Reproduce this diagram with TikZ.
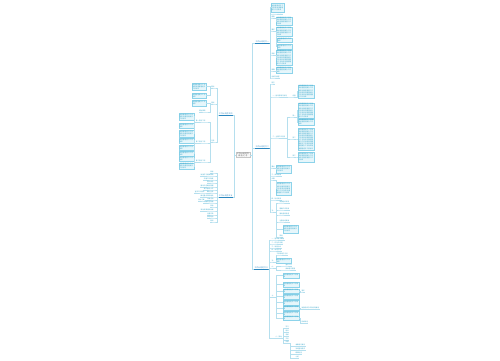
\documentclass[tikz,border=0pt]{standalone}
\usepackage{fontspec}
\setmainfont{Noto Sans CJK SC}
\XeTeXlinebreaklocale "zh"
\XeTeXlinebreakskip=0pt plus 1pt
\usetikzlibrary{positioning}
\definecolor{linkc}{HTML}{B5DFEE}
\definecolor{branchc}{HTML}{2A86BF}
\definecolor{boxfill}{HTML}{E6F6FB}
\definecolor{boxline}{HTML}{8DD3EA}
\definecolor{textc}{HTML}{3AA6C9}
\newcommand{\tinyfont}{\fontsize{1.6}{2.1}\selectfont}
\newcommand{\filler}[1]{\foreach \k in {1,...,#1}{加强管理提升工作效率}}
% links: right side / left side, to a label or to a box
\newcommand{\rlink}[2]{\draw[link] (#1.south east) -- ++(1,0) |- (#2.south west) -- (#2.south east);}
\newcommand{\rbox}[2]{\draw[link] (#1.south east) -- ++(1,0) |- (#2.west);}
\newcommand{\llink}[2]{\draw[link] (#1.south west) -- ++(-1,0) |- (#2.south east) -- (#2.south west);}
\newcommand{\lbox}[2]{\draw[link] (#1.south west) -- ++(-1,0) |- (#2.east);}
\tikzset{
  hub/.style={draw=gray!45, fill=gray!6, line width=0.3pt, inner sep=0.6pt, text width=13pt, align=center,
    font=\fontsize{1.8}{2.3}\selectfont, text=black!70},
  branch/.style={inner sep=0.4pt, font=\fontsize{1.9}{2.3}\selectfont, text=branchc},
  lbl/.style={inner sep=0.3pt, font=\tinyfont, text=textc},
  leafbox/.style={draw=boxline, line width=0.2pt, fill=boxfill, inner sep=0.4pt,
    font=\tinyfont, text=textc, align=left},
  link/.style={draw=linkc, line width=0.25pt},
  ubar/.style={draw=branchc, line width=0.6pt},
}

\begin{document}
\begin{tikzpicture}[x=1pt,y=-1pt]
\useasboundingbox (0,0) rectangle (500,360);

% ================= Centre and main branches =================
\node[hub] (hub) at (243,155) {工作计划范文\\精选汇总};

\node[branch, anchor=south west] (r1) at (255,43)  {工作计划范文一};
\node[branch, anchor=south west] (r2) at (255,148) {工作计划范文二};
\node[branch, anchor=south west] (r3) at (254,269) {工作计划范文三};
\node[branch, anchor=south east] (l1) at (233,115) {工作计划范文四};
\node[branch, anchor=south east] (l2) at (233,197) {工作计划范文五};

\foreach \b in {r1,r2,r3}{
  \draw[link] (hub.east) -- ++(2,0) |- (\b.south west);
  \draw[ubar] (\b.south west) -- (\b.south east);
}
\foreach \b in {l1,l2}{
  \draw[link] (hub.west) -- ++(-2,0) |- (\b.south east);
  \draw[ubar] (\b.south east) -- (\b.south west);
}

% ================= Right side labels =================
\foreach \n/\p/\x/\y/\t in {
  r1b/r1/271/14/工作目标与任务, r1c/r1/271/18/措施, r1d/r1/271/31/要求,
  r1e/r1/271/55/安排, r1f/r1/271/71/保障, r1g/r1/271/78/总结与展望,
  r2a/r2/271/84/前言, r2b/r2/272/97/一、指导思想与原则, q1/r2b/292/97/内容,
  r2c/r2/272/138/二、主要工作任务, q2/r2c/292/117/其一, q3/r2c/292/139/其二,
  q4/r2c/292/157/其三, r2d/r2/271/168/要点, r2e/r2/271/176/三、具体措施,
  r2f/r2/271/180/步骤, r2g/r2/271/200/四、时间安排, r2h/r2/271/212/五、,
  s1/r2h/279/203/加强组织领导, s2/r2h/279/210/明确工作职责,
  s3/r2h/279/215/强化督促检查, s4/r2h/279/222/注重总结提高, s6/r2h/279/237/其他,
  t1/r3/271/240/一、基本情况概述, t2/r3/271/244/二、存在的问题,
  t3/r3/271/248/三、原因分析, t4/r3/271/251/四、改进方向,
  t5/r3/271/262/五、, t5a/t5/276/255/工作思路与方法,
  t6/r3/271/268/六、, t6a/t6/285/266/重点工作, t6b/t6/285/270/具体落实措施,
  t7/r3/271/297/七、, t8/r3/275/338/八、其他,
  u1/t8/285/328/学习, u2/t8/285/332/培训, u3/t8/285/336/考核,
  u4/t8/285/340/交流, u5/t8/285/343/反馈,
  v1/u5/295/346/收集意见建议, v2/u5/295/350/及时整改落实,
  v3/u5/295/354/跟踪检查, v4/u5/295/358/小结
}{
  \node[lbl, anchor=south west] (\n) at (\x,\y) {\t};
  \rlink{\p}{\n}
}

% ================= Right side boxes =================
\foreach \n/\p/\x/\ya/\yb/\w in {
  r1a/r1/271/3/12/12, r1c1/r1c/276/17/25/15, r1d1/r1d/276/27/36/15,
  r1d2/r1d/277/38/42/14, r1d3/r1d/277/44/49/14, r1e1/r1e/276/50/65/15,
  r1f1/r1f/276/67/73/15,
  q1b/q1/298/85/98/15, q2a/q2/298/103/118/15, q2b/q2/298/119/125/15,
  q3a/q3/298/128/150/15, q4a/q4/298/152/162/15, r2d1/r2d/276/165/173/14,
  r2f1/r2f/276/182/195/14, s5/r2h/283/225/233/14,
  t5b/t5/276/258/263/14,
  t7a/t7/283/273/278/15, t7b/t7/283/282/287/15, t7c/t7/283/289/293/15,
  t7d/t7/283/295/298/15, t7e/t7/283/300/305/15, t7f/t7/283/306/310/15,
  t7g/t7/283/312/315/15, t7h/t7/283/316/320/15
}{
  \pgfmathsetmacro\yc{(\ya+\yb)/2}
  \pgfmathsetmacro\hh{\yb-\ya}
  \pgfmathtruncatemacro\rep{max(1,(\hh-1)*\w/34)}
  \node[leafbox, text width=\w pt, minimum height=\hh pt, anchor=west] (\n) at (\x,\yc) {\filler{\rep}};
  \rbox{\p}{\n}
}

% extra labels hanging off boxes
\foreach \n/\p/\x/\y/\t in {
  x1/t7c/301/292/落实, x2/t7f/301/309/加强考核与评价机制建设, x3/t7h/301/323/持续改进
}{
  \node[lbl, anchor=south west] (\n) at (\x,\y) {\t};
  \draw[link] (\p.east) -- ++(1,0) |- (\n.south west) -- (\n.south east);
}

% ================= Left side labels =================
\foreach \n/\p/\x/\y/\t in {
  a1/l1/215/88/要点, a2/l1/215/104/重点, a3/l1/215/142/任务,
  a2b/a2/206/112/其他事项,
  p1/a3/206/122/第一阶段工作, p2/a3/206/143/第二阶段工作, p3/a3/206/162/第三阶段工作,
  e1/l2/214/173/目标, e2/l2/214/176/加强学习提高素质, e3/l2/214/180/完善工作制度,
  e4/l2/214/183/落实责任, e5/l2/214/187/强化队伍建设管理, e6/l2/214/190/提升服务水平,
  e7/l2/214/193/做好宣传, e8/l2/214/197/推进重点项目建设, e9/l2/214/200/开展活动,
  e10/l2/214/203/加强安全管理, e11/l2/214/207/其他, e12/l2/214/211/深化改革创新发展,
  e13/l2/214/215/注重实效, e14/l2/214/218/总结经验, e15/l2/214/222/附则,
  g1/e7/205/193/宣传工作要点, g2/e9/205/201/活动方案
}{
  \node[lbl, anchor=south east] (\n) at (\x,\y) {\t};
  \llink{\p}{\n}
}

% ================= Left side boxes =================
\foreach \n/\p/\x/\ya/\yb/\w in {
  b1/a1/206/83/90/13, b2/a1/206/93/98/13, b3/a2/206/100/106/13,
  c1/p1/194/113/120/14, c2/p1/194/123/128/14, c3/p1/194/130/137/14,
  c4/p2/194/138/143/14, c5/p2/194/145/150/14, c6/p2/194/152/155/14,
  c7/p3/194/157/160/14, c8/p3/194/163/169/14
}{
  \pgfmathsetmacro\yc{(\ya+\yb)/2}
  \pgfmathsetmacro\hh{\yb-\ya}
  \pgfmathtruncatemacro\rep{max(1,(\hh-1)*\w/34)}
  \node[leafbox, text width=\w pt, minimum height=\hh pt, anchor=east] (\n) at (\x,\yc) {\filler{\rep}};
  \lbox{\p}{\n}
}

\end{tikzpicture}
\end{document}
